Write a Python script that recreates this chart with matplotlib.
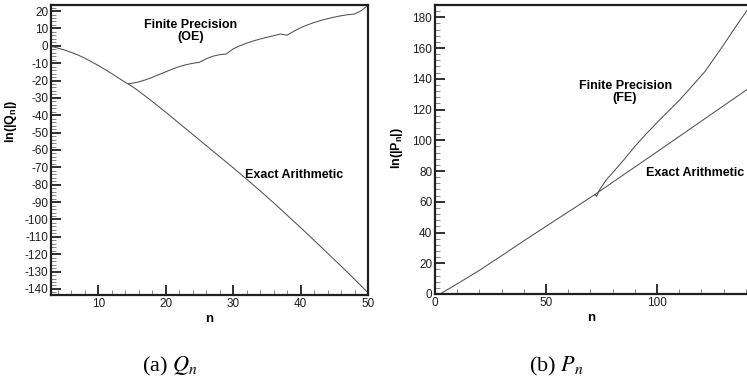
import matplotlib
matplotlib.use("Agg")
import matplotlib.pyplot as plt
from matplotlib.ticker import MultipleLocator

plt.rcParams['font.family'] = ['Liberation Sans', 'DejaVu Sans']
plt.rcParams['axes.unicode_minus'] = False
plt.rcParams['mathtext.fontset'] = 'custom'
plt.rcParams['mathtext.rm'] = 'Liberation Sans:bold'
plt.rcParams['mathtext.it'] = 'Liberation Sans:bold'
plt.rcParams['mathtext.bf'] = 'Liberation Sans:bold'

# (a) Q_n : exact arithmetic
q_exact_n = list(range(3, 51))
q_exact = [-0.3, -1.3, -2.4, -3.8, -5.3, -7.1, -9.2, -11.3, -13.6, -16.0,
           -18.5, -21.0, -23.3, -26.1, -29.0, -32.0, -35.1, -38.2, -41.4, -44.6,
           -47.8, -51.0, -54.2, -57.4, -60.6, -63.8, -67.0, -70.2, -73.5, -76.8,
           -80.1, -83.5, -86.9, -90.4, -93.9, -97.5, -101.1, -104.7, -108.3, -112.0,
           -115.7, -119.4, -123.1, -126.8, -130.6, -134.4, -138.3, -142.2]

# (a) Q_n : finite precision (OE)
q_fp_n = [14.5, 15, 16, 17, 18, 19, 20, 21, 22, 23, 24, 25, 26, 27, 28, 29,
          30, 31, 32, 33, 34, 35, 36, 37, 38, 39, 40, 41, 42, 43, 44, 45, 46,
          47, 48, 49, 50]
q_fp = [-21.9, -21.6, -20.8, -19.6, -18.2, -16.6, -15.0, -13.4, -12.0, -10.9,
        -10.1, -9.5, -7.5, -6.0, -5.1, -4.7, -1.8, 0.0, 1.5, 2.8, 3.9, 4.9,
        5.8, 6.8, 6.1, 8.4, 10.4, 12.0, 13.4, 14.6, 15.6, 16.5, 17.3, 17.9,
        18.3, 20.2, 23.3]

# (b) P_n : exact arithmetic
p_exact_n = [2.25, 10, 20, 30, 40, 50, 60, 70, 72.4, 80, 90, 100, 110, 120, 130, 140.5]
p_exact = [0.0, 6.6, 15.4, 24.9, 34.6, 44.0, 53.4, 62.8, 65.1, 72.7, 82.6, 92.5,
           102.5, 112.5, 122.5, 133.0]

# (b) P_n : finite precision (FE)
p_fp_n = [72.0, 72.8, 74, 77, 80, 85, 90, 95, 100, 105, 110, 115, 121.6, 125, 130, 135, 140.5]
p_fp = [64.7, 63.5, 67.5, 74.0, 78.9, 87.2, 96.0, 104.0, 111.5, 118.8, 126.0,
        134.0, 144.8, 151.8, 162.2, 173.0, 184.5]

line_kw = dict(color='#505050', lw=0.75)

fig = plt.figure(figsize=(7.47, 3.84), dpi=100)
ax1 = fig.add_axes([51 / 747, 89 / 384, 317 / 747, 290 / 384])
ax2 = fig.add_axes([435 / 747, 90 / 384, 312 / 747, 289.3 / 384])

ax1.plot(q_exact_n, q_exact, **line_kw)
ax1.plot(q_fp_n, q_fp, **line_kw)
ax1.set_xlim(3, 50)
ax1.set_ylim(-143.5, 23.5)
ax1.xaxis.set_major_locator(MultipleLocator(10))
ax1.xaxis.set_minor_locator(MultipleLocator(2))
ax1.yaxis.set_major_locator(MultipleLocator(10))
ax1.yaxis.set_minor_locator(MultipleLocator(2))
ax1.set_xlabel('n', fontweight='bold', fontsize=9.5, labelpad=2)
ax1.set_ylabel(r'ln(|Q$_n$|)', fontweight='bold', fontsize=9)
ax1.yaxis.set_label_coords(-0.101, 0.6)
ax1.text(23.7, 8.6, 'Finite Precision\n(OE)', ha='center', va='center',
         fontweight='bold', fontsize=9, linespacing=1.0)
ax1.text(39.1, -74.2, 'Exact Arithmetic', ha='center', va='center',
         fontweight='bold', fontsize=9)

ax2.plot(p_exact_n, p_exact, **line_kw)
ax2.plot(p_fp_n, p_fp, **line_kw)
ax2.set_xlim(0, 140.5)
ax2.set_ylim(0, 188.2)
ax2.xaxis.set_major_locator(MultipleLocator(50))
ax2.xaxis.set_minor_locator(MultipleLocator(10))
ax2.yaxis.set_major_locator(MultipleLocator(20))
ax2.yaxis.set_minor_locator(MultipleLocator(4))
ax2.spines['right'].set_visible(False)
ax2.set_xlabel('n', fontweight='bold', fontsize=9.5, labelpad=2)
ax2.set_ylabel(r'ln(|P$_n$|)', fontweight='bold', fontsize=9)
ax2.yaxis.set_label_coords(-0.096, 0.505)
ax2.text(85.6, 131.7, 'Finite Precision\n(FE)', ha='center', va='center',
         fontweight='bold', fontsize=9, linespacing=1.0)
ax2.text(117.1, 79, 'Exact Arithmetic', ha='center', va='center',
         fontweight='bold', fontsize=9)

for ax in (ax1, ax2):
    for s in ax.spines.values():
        s.set_linewidth(1.6)
        s.set_color('#202020')
    ax.tick_params(which='major', direction='in', length=7, width=1.3,
                   labelsize=8.5, pad=2, top=False, right=False, colors='#202020')
    ax.tick_params(which='minor', direction='in', length=3.5, width=0.6,
                   top=False, right=False, colors='#707070')
    ax.tick_params(axis='both', labelcolor='#202020')

serif_kw = dict(ha='center', va='center', fontsize=16,
                family=['Liberation Serif', 'DejaVu Serif'],
                math_fontfamily='stix')
fig.text(170 / 747, 1 - 366 / 384, r'(a) $Q_n$', **serif_kw)
fig.text(556 / 747, 1 - 366 / 384, r'(b) $P_n$', **serif_kw)

fig.savefig('out.png', dpi=100)
